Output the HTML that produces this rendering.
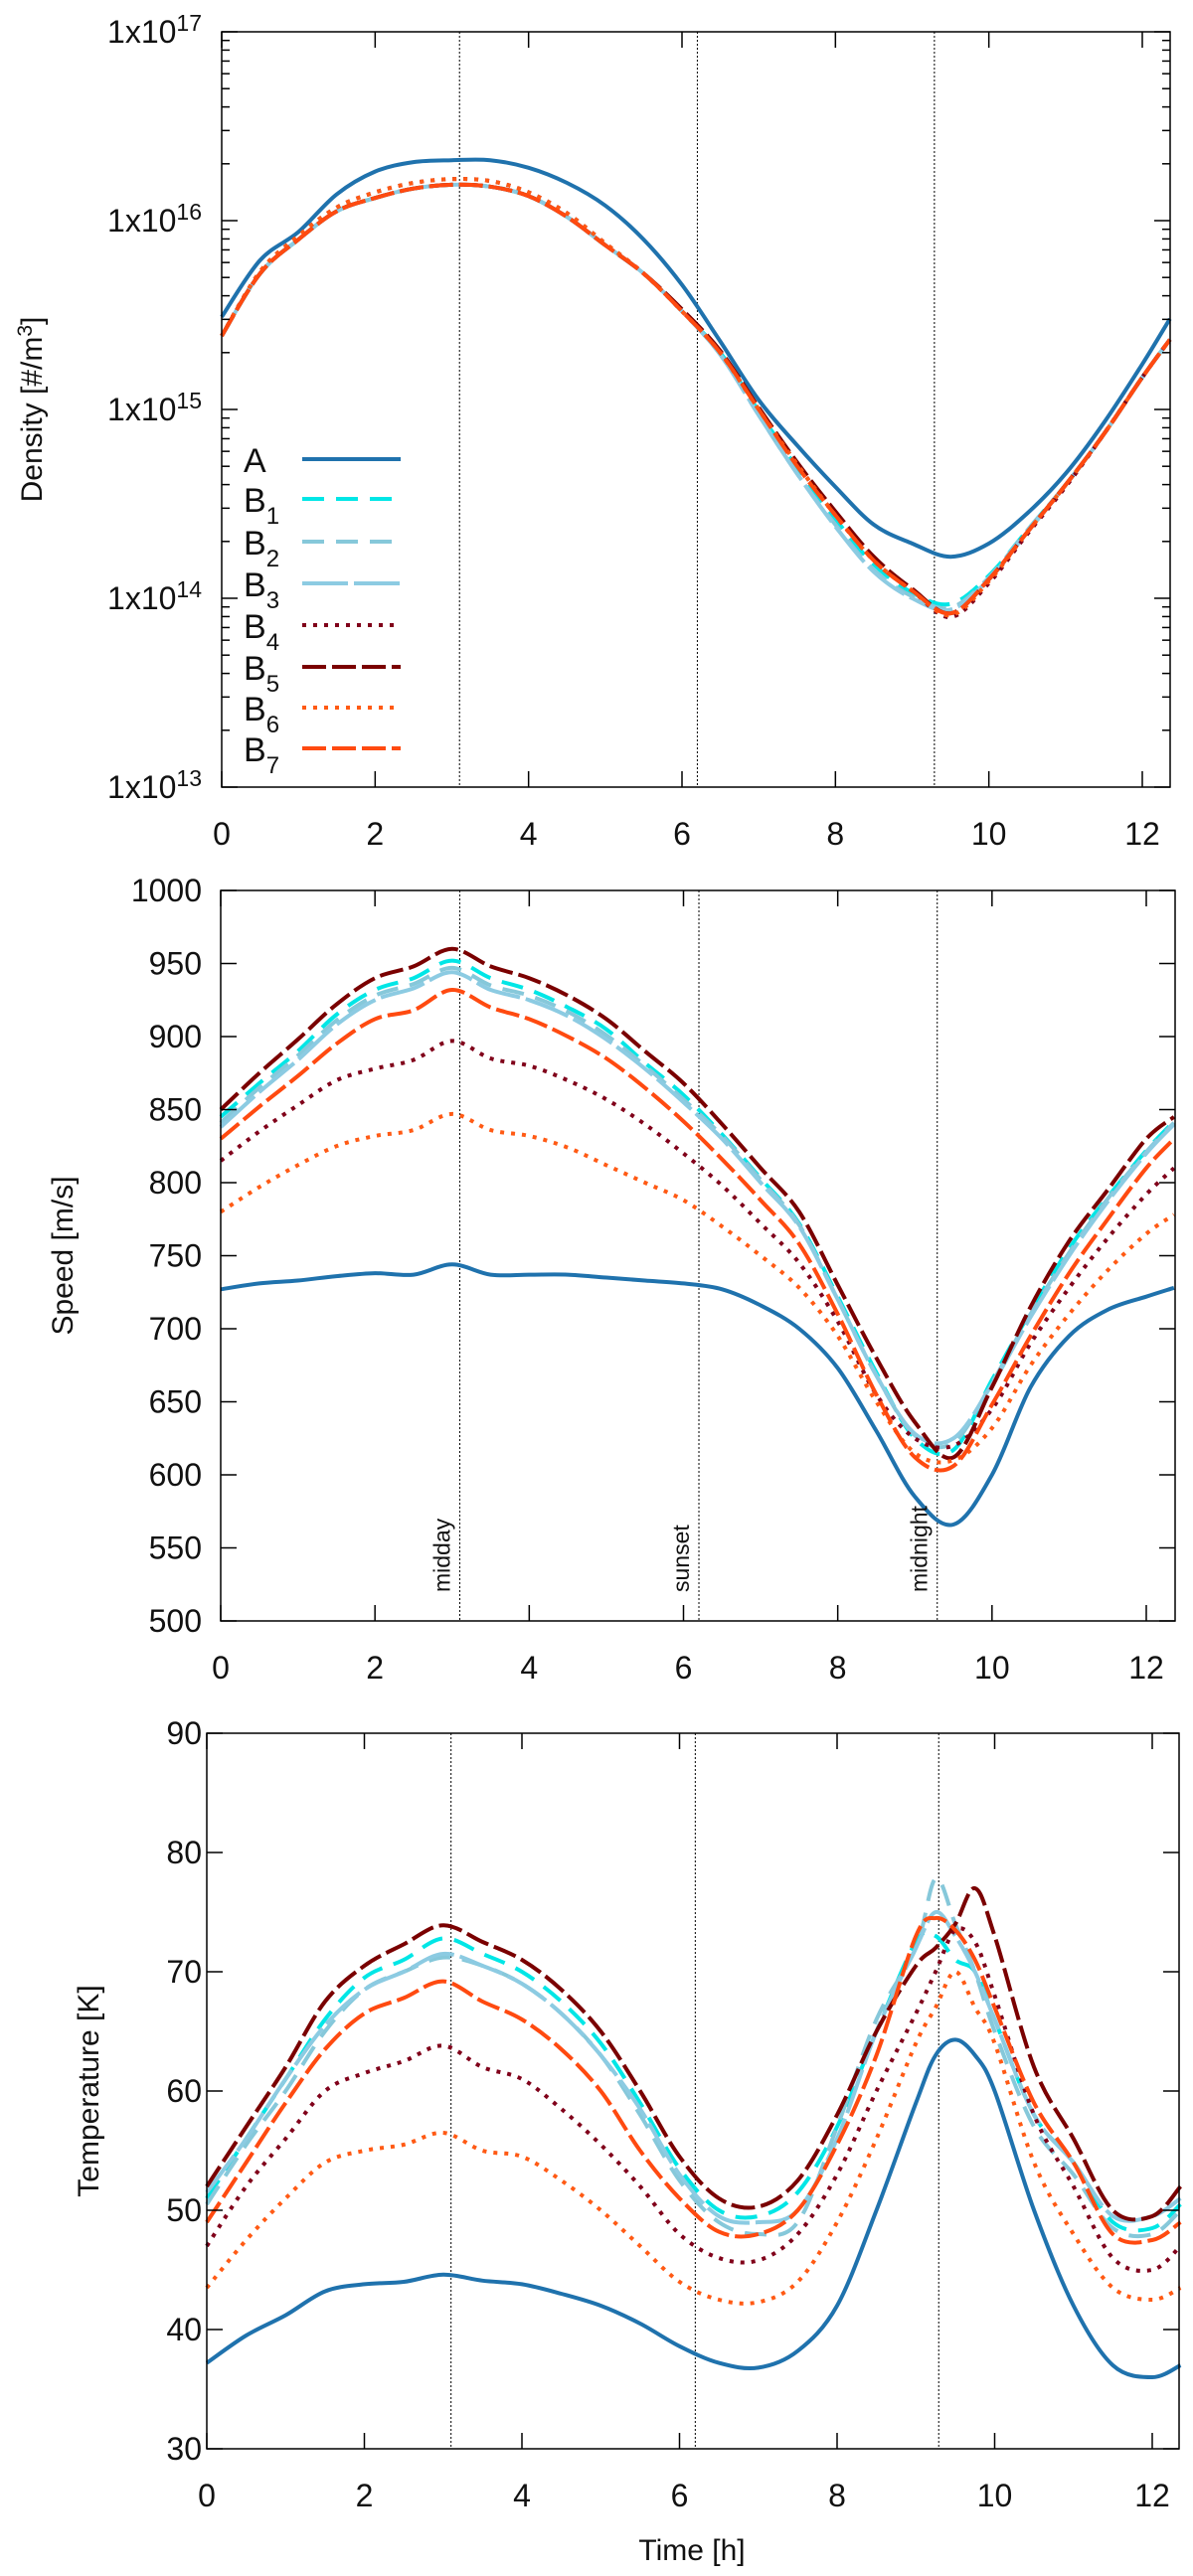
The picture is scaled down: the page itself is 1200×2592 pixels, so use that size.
<!DOCTYPE html>
<html><head><meta charset="utf-8"><style>
html,body{margin:0;padding:0;background:#fff;}
svg{display:block;font-family:"Liberation Sans",sans-serif;}
</style></head><body>
<svg id="fig" width="1200" height="2592" viewBox="0 0 1200 2592" xmlns="http://www.w3.org/2000/svg"></svg>
<script>
// ---- data ----
const timesA = [0,0.5,1,1.5,2,2.5,3,3.5,4,4.5,5,5.5,6,6.5,7,7.5,8,8.5,9,9.5,10,10.5,11,11.5,12,12.36];
const timesT = [0,0.5,1,1.5,2,2.5,3,3.5,4,4.5,5,5.5,6,6.5,7,7.5,8,8.5,9,9.25,9.5,9.75,10,10.5,11,11.5,12,12.36];
const seriesNames = ["A","B1","B2","B3","B4","B5","B6","B7"];
const verticalMarks = [3.1,6.2,9.29];
const markLabels = ["midday","sunset","midnight"];
// density log10 values
const densA  = [15.49,15.79,15.94,16.14,16.26,16.31,16.32,16.32,16.28,16.2,16.08,15.9,15.66,15.36,15.05,14.81,14.59,14.39,14.29,14.22,14.29,14.45,14.66,14.93,15.24,15.48];
const densB1 = [15.39,15.72,15.9,16.05,16.12,16.17,16.19,16.18,16.13,16.02,15.87,15.72,15.52,15.3,14.99,14.69,14.42,14.18,14.03,13.97,14.12,14.36,14.6,14.87,15.17,15.37];
const densB2 = [15.39,15.72,15.9,16.05,16.12,16.17,16.19,16.18,16.13,16.02,15.87,15.72,15.52,15.29,14.97,14.66,14.39,14.15,14.01,13.95,14.11,14.36,14.6,14.87,15.17,15.37];
const densB3 = [15.39,15.72,15.9,16.05,16.12,16.17,16.19,16.18,16.13,16.02,15.87,15.72,15.52,15.29,14.97,14.66,14.38,14.14,14.0,13.94,14.1,14.35,14.6,14.87,15.17,15.37];
const densB4 = [15.39,15.73,15.92,16.07,16.15,16.2,16.22,16.21,16.15,16.04,15.88,15.72,15.52,15.3,15.0,14.71,14.44,14.2,14.04,13.9,14.08,14.34,14.59,14.87,15.17,15.37];
const densB5 = [15.39,15.72,15.9,16.05,16.12,16.17,16.19,16.18,16.13,16.02,15.87,15.72,15.53,15.31,15.01,14.72,14.46,14.22,14.05,13.92,14.1,14.35,14.6,14.87,15.17,15.37];
const densB6 = [15.39,15.73,15.92,16.07,16.15,16.2,16.22,16.21,16.15,16.04,15.88,15.72,15.52,15.3,15.0,14.71,14.44,14.2,14.04,13.91,14.09,14.35,14.6,14.87,15.17,15.37];
const densB7 = [15.39,15.72,15.9,16.05,16.12,16.17,16.19,16.18,16.13,16.02,15.87,15.72,15.52,15.3,15.0,14.7,14.44,14.2,14.04,13.92,14.1,14.35,14.6,14.87,15.17,15.37];
// speed m/s
const spdA  = [727,731,733,736,738,737,744,737,737,737,735,733,731,727,716,700,673,630,585,566,600,660,695,713,722,728];
const spdB1 = [845,868,890,915,932,940,952,940,932,920,905,882,860,833,803,772,722,670,625,617,665,712,755,790,822,842];
const spdB2 = [841,865,887,911,928,936,947,935,928,917,901,880,857,832,802,771,720,668,627,622,663,710,752,789,821,841];
const spdB3 = [838,862,884,908,925,933,944,932,925,914,898,878,855,830,800,770,720,668,628,625,662,708,750,787,820,840];
const spdB4 = [815,835,853,870,878,884,897,885,880,870,857,840,820,798,772,745,705,655,625,620,645,690,728,762,792,810];
const spdB5 = [850,875,898,922,940,948,960,948,940,928,912,890,868,840,810,780,730,680,636,612,660,715,760,795,830,845];
const spdB6 = [780,797,812,825,832,836,847,836,832,824,812,800,788,770,750,728,695,650,615,610,632,675,710,740,765,778];
const spdB7 = [830,852,873,895,912,918,932,920,912,900,885,865,842,816,788,758,710,655,612,606,648,695,738,775,810,830];
// temperature K
const tmpA  = [37.2,39.5,41.2,43.2,43.8,44,44.6,44.1,43.8,43,42,40.5,38.6,37.2,36.8,38.2,42,50,59,63,64.3,63,60,50,42,37,36,37];
const tmpB1 = [51,56,61,66,69.5,71,72.8,71.5,70,67.5,64,59,53.5,50,49.5,51.5,57,65,72.5,73,71,70,66,58,54,49,48.5,50.5];
const tmpB2 = [50.5,55.5,60,65,68.5,70,71.2,70.5,69,66.5,63,58,52.5,49,48,49,57,66,72,77.8,74,70,65,57,53,48.5,48,50];
const tmpB3 = [51.5,56,61,65.5,68.5,70,71.5,70.5,69,66.5,63,58.5,53,49.5,49,50,56,65,72,75,73,70,66,58,54,49.5,49.5,51];
const tmpB4 = [47,52,56,60,61.5,62.5,63.8,62,61,58.5,55.5,52,48,46,45.8,48,53,60,66.5,70,73.5,72.5,68,58,52,46,45,47];
const tmpB5 = [52,57,62,67.5,70.5,72.3,73.9,72.5,71,68.5,65,60,54.5,51,50.3,52.5,58,65,70.5,72,74,77,73,62,56,50,49.5,52];
const tmpB6 = [43.5,47.5,51,54,55,55.5,56.5,55,54.5,52.5,50,47,44,42.5,42.3,44,49,56,64,67,70,67,64,54,48,43.5,42.5,43.5];
const tmpB7 = [49,54,59,63.5,66.5,67.8,69.2,67.5,66,63.5,60,55,51,48.2,48,50,55.5,63,73,74.5,73.5,71,67,59,54,48,47.5,49];
const xTicks = [0,2,4,6,8,10,12];
const speedTicks = [500,550,600,650,700,750,800,850,900,950,1000];
const tempTicks = [30,40,50,60,70,80,90];
const densTicks = [13,14,15,16,17];

const styles = {
 A:{c:"#1f72ad",d:""}, B1:{c:"#00e6e6",d:"22,12"}, B2:{c:"#86c8da",d:"22,12"},
 B3:{c:"#8ccbe2",d:"46,6"}, B4:{c:"#80001a",d:"4,7"}, B5:{c:"#7a0000",d:"24,6"},
 B6:{c:"#ff5a14",d:"4,7"}, B7:{c:"#ff4a10",d:"24,6"}
};
const NS="http://www.w3.org/2000/svg";
const svg=document.getElementById('fig');
function mk(tag,attrs,parent){const e=document.createElementNS(NS,tag);for(const k in attrs)e.setAttribute(k,attrs[k]);(parent||svg).appendChild(e);return e;}
function smoothPath(pts){
 let d="M"+pts[0][0].toFixed(1)+","+pts[0][1].toFixed(1);
 for(let i=0;i<pts.length-1;i++){
  const p0=pts[Math.max(0,i-1)],p1=pts[i],p2=pts[i+1],p3=pts[Math.min(pts.length-1,i+2)];
  const c1=[p1[0]+(p2[0]-p0[0])/6,p1[1]+(p2[1]-p0[1])/6];
  const c2=[p2[0]-(p3[0]-p1[0])/6,p2[1]-(p3[1]-p1[1])/6];
  d+=" C"+c1[0].toFixed(1)+","+c1[1].toFixed(1)+" "+c2[0].toFixed(1)+","+c2[1].toFixed(1)+" "+p2[0].toFixed(1)+","+p2[1].toFixed(1);
 }
 return d;
}
function panel(cfg){
 const g=mk('g',{});
 
 
 const {L,R,T,B,x12}=cfg;
 const xs=t=>L+(x12-L)*t/12;
 const ys=v=>B-(B-T)*(v-cfg.ymin)/(cfg.ymax-cfg.ymin);
 // vertical marker lines
 verticalMarks.forEach((m,i)=>{
  const l=mk('line',{x1:xs(m),x2:xs(m),y1:T,y2:B,stroke:"#000","stroke-width":1,"stroke-dasharray":"2,2"},g);
  
  
 });
 // series
 cfg.series.forEach((vals,i)=>{
  const nm=seriesNames[i];const st=styles[nm];
  const pts=cfg.times.map((t,j)=>[xs(t),ys(vals[j])]);
  const p=mk('path',{d:smoothPath(pts),fill:"none",stroke:st.c,"stroke-width":4,"stroke-dasharray":st.d,"stroke-linejoin":"round"},g);
  
  
 });
 // frame
 const fr=mk('rect',{x:L,y:T,width:R-L,height:B-T,fill:"none",stroke:"#000","stroke-width":1.5},g);
 
 
 // x ticks
 xTicks.forEach(t=>{
  const x=xs(t);
  mk('line',{x1:x,x2:x,y1:B,y2:B-16,stroke:"#000","stroke-width":1.5},g);
  mk('line',{x1:x,x2:x,y1:T,y2:T+16,stroke:"#000","stroke-width":1.5},g);
  const tx=mk('text',{x:x,y:B+58,"font-size":32,"text-anchor":"middle",fill:"#111"},g);
  tx.textContent=t;
  
  
 });
 // y ticks
 cfg.yticks.forEach(v=>{
  const y=ys(v);
  mk('line',{x1:L,x2:L+16,y1:y,y2:y,stroke:"#000","stroke-width":1.5},g);
  mk('line',{x1:R,x2:R-16,y1:y,y2:y,stroke:"#000","stroke-width":1.5},g);
  const tx=mk('text',{x:203,y:y+11,"font-size":32,"text-anchor":"end",fill:"#111"},g);
  if(cfg.log){tx.textContent="1x10";const s=mk('tspan',{dy:-12,"font-size":23},tx);s.textContent=v;}
  else tx.textContent=v;
  
  
 });
 if(cfg.log){
  for(let d=13;d<17;d++)for(let k=2;k<=9;k++){
   const y=ys(d+Math.log10(k));
   mk('line',{x1:L,x2:L+8,y1:y,y2:y,stroke:"#000","stroke-width":1.5},g);
   mk('line',{x1:R,x2:R-8,y1:y,y2:y,stroke:"#000","stroke-width":1.5},g);
  }
 }
 const yl=mk('text',{x:0,y:0,"font-size":30,"text-anchor":"middle",fill:"#111",transform:`translate(${cfg.ylx},${(T+B)/2}) rotate(-90)`},g);
 yl.textContent=cfg.ylabel;
 
 
 return {g,xs,ys};
}
// density
const p1=panel({name:'density-panel',L:223,R:1177,T:32,B:792,x12:1149,ymin:13,ymax:17,log:true,yticks:densTicks,times:timesA,
 series:[densA,densB1,densB2,densB3,densB4,densB5,densB6,densB7],ylx:42,ylabel:""});
{ // density label with superscript
 const yl=p1.g.lastChild; yl.textContent="Density [#/m";
 const s=mk('tspan',{dy:-10,"font-size":21},yl); s.textContent="3";
 const e=mk('tspan',{dy:10},yl); e.textContent="]";
}
// legend
const leg=mk('g',{});


const legY=[462,502,545,587,629,671,712,753];
seriesNames.forEach((nm,i)=>{
 const st=styles[nm];
 const t=mk('text',{x:245,y:legY[i]+13,"font-size":34,fill:"#111"},leg);
 t.textContent=nm[0];
 if(nm.length>1){const s=mk('tspan',{dy:12,"font-size":24},t);s.textContent=nm.slice(1);}
 
 
 const l=mk('line',{x1:304,x2:403,y1:legY[i],y2:legY[i],stroke:st.c,"stroke-width":4,"stroke-dasharray":st.d},leg);
 
 
});
// speed
const p2=panel({name:'speed-panel',L:222,R:1182,T:896,B:1631,x12:1153,ymin:500,ymax:1000,yticks:speedTicks,times:timesA,
 series:[spdA,spdB1,spdB2,spdB3,spdB4,spdB5,spdB6,spdB7],ylx:73,ylabel:"Speed [m/s]"});
verticalMarks.forEach((m,i)=>{
 const x=p2.xs(m)-10;
 const t=mk('text',{x:0,y:0,"font-size":23,"text-anchor":"start",fill:"#111",transform:`translate(${x},${1602}) rotate(-90)`},p2.g);
 t.textContent=markLabels[i];
 
 
});
// temperature
const p3=panel({name:'temperature-panel',L:208,R:1186,T:1744,B:2464,x12:1159,ymin:30,ymax:90,yticks:tempTicks,times:timesT,
 series:[tmpA,tmpB1,tmpB2,tmpB3,tmpB4,tmpB5,tmpB6,tmpB7],ylx:99,ylabel:"Temperature [K]"});
const xt=mk('text',{x:696,y:2576,"font-size":30,"text-anchor":"middle",fill:"#111"});
xt.textContent="Time [h]";


</script>
</body></html>
